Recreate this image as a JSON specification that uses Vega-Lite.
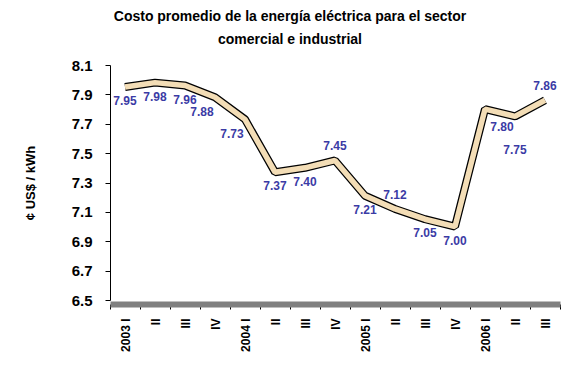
{
  "$schema": "https://vega.github.io/schema/vega-lite/v6.json",
  "autosize": "none",
  "width": 450,
  "height": 235,
  "padding": {"left": 110, "top": 65, "right": 11, "bottom": 70},
  "background": "white",
  "title": {
    "text": ["Costo promedio de la energía eléctrica para el sector", "comercial e industrial"],
    "font": "Liberation Sans",
    "fontSize": 14,
    "fontWeight": "bold",
    "color": "black",
    "lineHeight": 23,
    "anchor": "middle",
    "frame": "group",
    "dx": -45,
    "offset": 11
  },
  "config": {
    "view": {"stroke": null},
    "axis": {
      "labelFont": "Liberation Sans",
      "labelFontWeight": "bold",
      "labelColor": "black",
      "titleFont": "Liberation Sans",
      "titleFontWeight": "bold",
      "titleColor": "black",
      "grid": false,
      "domainColor": "black",
      "tickColor": "black"
    }
  },
  "data": {
    "values": [
      {"periodo": "2003 I", "costo": 7.95},
      {"periodo": "2003 II", "costo": 7.98},
      {"periodo": "2003 III", "costo": 7.96},
      {"periodo": "2003 IV", "costo": 7.88},
      {"periodo": "2004 I", "costo": 7.73},
      {"periodo": "2004 II", "costo": 7.37},
      {"periodo": "2004 III", "costo": 7.40},
      {"periodo": "2004 IV", "costo": 7.45},
      {"periodo": "2005 I", "costo": 7.21},
      {"periodo": "2005 II", "costo": 7.12},
      {"periodo": "2005 III", "costo": 7.05},
      {"periodo": "2005 IV", "costo": 7.00},
      {"periodo": "2006 I", "costo": 7.80},
      {"periodo": "2006 II", "costo": 7.75},
      {"periodo": "2006 III", "costo": 7.86}
    ]
  },
  "encoding": {
    "x": {
      "field": "periodo",
      "type": "nominal",
      "sort": null,
      "title": null,
      "scale": {"paddingInner": 0, "paddingOuter": 0},
      "axis": {
        "labelAngle": -90,
        "labelFontSize": 12,
        "labelPadding": 9,
        "tickBand": "extent",
        "tickSize": 5,
        "domainColor": "#808080",
        "domainWidth": 6,
        "offset": 4,
        "labelExpr": "split(datum.label, ' ')[1] == 'I' ? datum.label : split(datum.label, ' ')[1]"
      }
    },
    "y": {
      "field": "costo",
      "type": "quantitative",
      "title": "¢ US$ / kWh",
      "scale": {"domain": [6.5, 8.1], "nice": false, "zero": false},
      "axis": {
        "values": [6.5, 6.7, 6.9, 7.1, 7.3, 7.5, 7.7, 7.9, 8.1],
        "format": ".1f",
        "labelFontSize": 15,
        "labelPadding": 13,
        "tickSize": 5,
        "titleFontSize": 13,
        "titlePadding": 34
      }
    }
  },
  "layer": [
    {
      "mark": {"type": "line", "stroke": "black", "strokeWidth": 8, "strokeJoin": "bevel"}
    },
    {
      "mark": {"type": "line", "stroke": "#F3DDB6", "strokeWidth": 5.5, "strokeJoin": "bevel"}
    },
    {
      "transform": [{"filter": {"field": "periodo", "oneOf": ["2003 I", "2003 II", "2003 III", "2004 II", "2004 III", "2005 I", "2005 III", "2005 IV"]}}],
      "mark": {"type": "text", "font": "Liberation Sans", "fontWeight": "bold", "fontSize": 12, "color": "#3B3BA5", "dy": 14},
      "encoding": {"text": {"field": "costo", "type": "quantitative", "format": ".2f"}}
    },
    {
      "transform": [{"filter": {"field": "periodo", "oneOf": ["2003 IV", "2004 I"]}}],
      "mark": {"type": "text", "font": "Liberation Sans", "fontWeight": "bold", "fontSize": 12, "color": "#3B3BA5", "dy": 15, "dx": -13},
      "encoding": {"text": {"field": "costo", "type": "quantitative", "format": ".2f"}}
    },
    {
      "transform": [{"filter": {"field": "periodo", "oneOf": ["2006 I"]}}],
      "mark": {"type": "text", "font": "Liberation Sans", "fontWeight": "bold", "fontSize": 12, "color": "#3B3BA5", "dy": 18, "dx": 17},
      "encoding": {"text": {"field": "costo", "type": "quantitative", "format": ".2f"}}
    },
    {
      "transform": [{"filter": {"field": "periodo", "oneOf": ["2006 II"]}}],
      "mark": {"type": "text", "font": "Liberation Sans", "fontWeight": "bold", "fontSize": 12, "color": "#3B3BA5", "dy": 34},
      "encoding": {"text": {"field": "costo", "type": "quantitative", "format": ".2f"}}
    },
    {
      "transform": [{"filter": {"field": "periodo", "oneOf": ["2004 IV", "2005 II", "2006 III"]}}],
      "mark": {"type": "text", "font": "Liberation Sans", "fontWeight": "bold", "fontSize": 12, "color": "#3B3BA5", "dy": -14},
      "encoding": {"text": {"field": "costo", "type": "quantitative", "format": ".2f"}}
    }
  ]
}
